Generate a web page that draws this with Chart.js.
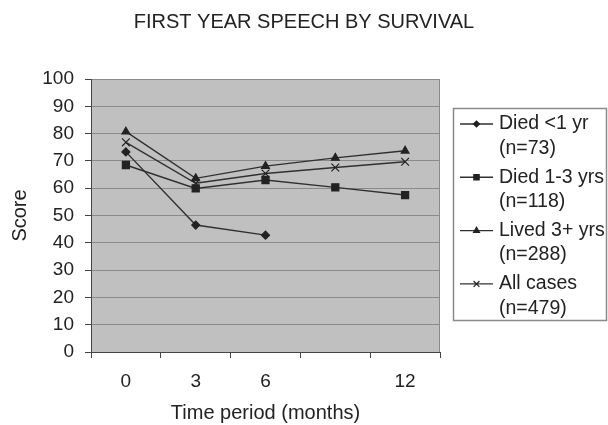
<!DOCTYPE html>
<html>
<head>
<meta charset="utf-8">
<script src="https://cdn.jsdelivr.net/npm/chart.js@4/dist/chart.umd.min.js"></script>
<style>
  html, body { margin: 0; padding: 0; background: #fff; }
  #wrap { width: 608px; height: 425px; }
</style>
</head>
<body>
<div id="wrap"><canvas id="c" width="608" height="425"></canvas></div>
<script>
// Time points (months); the 9-month point carries no printed label
const months = ['0', '3', '6', '9', '12'];
const monthTickLabels = ['0', '3', '6', '', '12'];

// Mean first-year speech score per survival group
const diedUnder1Yr = [73.3, 46.5, 42.8, null, null];
const died1to3Yrs  = [68.5, 59.9, 63.0, 60.3, 57.5];
const lived3PlusYrs = [80.7, 63.6, 68.1, 71.1, 73.7];
const allCases     = [76.8, 61.8, 65.4, 67.6, 69.7];

const groupNames = ['Died <1 yr', 'Died 1-3 yrs', 'Lived 3+ yrs', 'All cases'];
const groupSizes = ['(n=73)', '(n=118)', '(n=288)', '(n=479)'];

const FONT = "'Liberation Sans', Arial, sans-serif";
const INK = '#222';
const LINE = '#303030';

const markers = [
  { pointStyle: 'rectRot', pointRadius: 4 },
  { pointStyle: 'rect', pointRadius: 5 },
  { pointStyle: 'triangle', pointRadius: 4.5 },
  { pointStyle: 'crossRot', pointRadius: 5.5 }
];
const seriesValues = [diedUnder1Yr, died1to3Yrs, lived3PlusYrs, allCases];

const datasets = seriesValues.map((vals, i) => ({
  label: groupNames[i],
  data: vals,
  borderColor: LINE,
  backgroundColor: INK,
  borderWidth: 1.4,
  pointStyle: markers[i].pointStyle,
  pointRadius: markers[i].pointRadius,
  pointBorderColor: INK,
  pointBackgroundColor: INK,
  pointBorderWidth: 1.2,
  pointHoverRadius: markers[i].pointRadius,
  tension: 0,
  spanGaps: false,
  fill: false
}));

// Grey plotting area with a thin frame on the right
const plotBackground = {
  id: 'plotBackground',
  beforeDraw(chart) {
    const { ctx, chartArea: a } = chart;
    ctx.save();
    ctx.fillStyle = '#c0c0c0';
    ctx.fillRect(a.left, a.top, a.right - a.left, a.bottom - a.top);
    ctx.restore();
  },
  beforeDatasetsDraw(chart) {
    const { ctx, chartArea: a } = chart;
    ctx.save();
    ctx.strokeStyle = '#8a8a8a';
    ctx.lineWidth = 1;
    ctx.beginPath();
    ctx.moveTo(Math.round(a.right) - 0.5, a.top);
    ctx.lineTo(Math.round(a.right) - 0.5, a.bottom);
    ctx.stroke();
    ctx.restore();
  }
};

// Boxed legend on the right with two-line entries
const sideLegend = {
  id: 'sideLegend',
  beforeInit(chart) {
    const box = {
      position: 'right',
      weight: 0,
      fullSize: false,
      options: { stackWeight: 1 },
      width: 0, height: 0, left: 0, top: 0, right: 0, bottom: 0,
      isHorizontal() { return false; },
      update(maxWidth, maxHeight) {
        this.width = 168;
        this.height = maxHeight;
      },
      draw() {
        const ctx = chart.ctx;
        const x0 = this.left + 13;
        const y0 = 108;
        ctx.save();
        ctx.fillStyle = '#fff';
        ctx.fillRect(x0, y0, 154, 213);
        ctx.strokeStyle = '#8a8a8a';
        ctx.lineWidth = 1.5;
        ctx.strokeRect(x0 + 0.5, y0 + 0.5, 153, 212);
        ctx.font = '19.5px ' + FONT;
        ctx.textBaseline = 'middle';
        ctx.textAlign = 'left';
        chart.data.datasets.forEach((ds, i) => {
          const rowY = 124 + i * 53.3;
          ctx.strokeStyle = LINE;
          ctx.lineWidth = 1.4;
          ctx.beginPath();
          ctx.moveTo(this.left + 20, rowY);
          ctx.lineTo(this.left + 53, rowY);
          ctx.stroke();
          ctx.fillStyle = INK;
          ctx.strokeStyle = INK;
          ctx.lineWidth = 1.2;
          Chart.helpers.drawPoint(ctx, {
            pointStyle: ds.pointStyle,
            radius: ds.pointRadius * 0.75,
            rotation: 0,
            borderWidth: 1.2
          }, this.left + 36.5, rowY);
          ctx.fillStyle = INK;
          ctx.fillText(groupNames[i], this.left + 59, rowY);
          ctx.fillText(groupSizes[i], this.left + 59, rowY + 24.5);
        });
        ctx.restore();
      }
    };
    Chart.layouts.addBox(chart, box);
  }
};

new Chart(document.getElementById('c'), {
  type: 'line',
  data: { labels: months, datasets },
  plugins: [plotBackground, sideLegend],
  options: {
    responsive: false,
    animation: false,
    devicePixelRatio: 1,
    layout: { padding: 0 },
    plugins: {
      legend: { display: false },
      tooltip: { enabled: false },
      title: {
        display: true,
        text: 'FIRST YEAR SPEECH BY SURVIVAL',
        color: INK,
        font: { family: FONT, size: 20, weight: 'normal' },
        padding: { top: 10, bottom: 45 }
      }
    },
    scales: {
      x: {
        type: 'category',
        offset: true,
        grid: {
          display: true,
          offset: true,
          drawOnChartArea: false,
          drawTicks: true,
          tickLength: 6,
          tickColor: '#444'
        },
        border: { display: true, color: '#444', width: 1 },
        ticks: {
          autoSkip: false,
          maxRotation: 0,
          padding: 12,
          color: INK,
          font: { family: FONT, size: 19 },
          callback: (value, index) => monthTickLabels[index]
        },
        title: {
          display: true,
          text: 'Time period (months)',
          color: INK,
          font: { family: FONT, size: 20 },
          padding: { top: 0, bottom: 0 }
        },
        afterFit(scale) { scale.height = 73; }
      },
      y: {
        min: 0,
        max: 100,
        grid: {
          color: '#8a8a8a',
          lineWidth: 1,
          tickLength: 6,
          tickColor: '#444'
        },
        border: { display: true, color: '#444', width: 1 },
        ticks: {
          stepSize: 10,
          padding: 11,
          color: INK,
          font: { family: FONT, size: 19 }
        },
        title: {
          display: true,
          text: 'Score',
          color: INK,
          font: { family: FONT, size: 20 },
          padding: { top: 8, bottom: 0 }
        },
        afterFit(scale) { scale.width = 91; }
      }
    }
  }
});
</script>
</body>
</html>
